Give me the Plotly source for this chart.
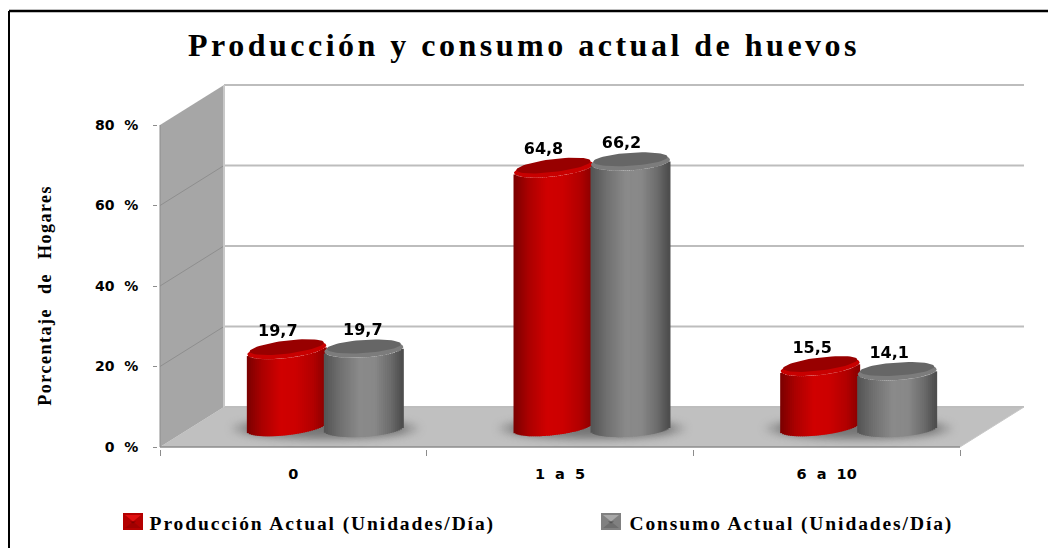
import math
import plotly.graph_objects as go

categories = ["0", "1  a  5", "6  a  10"]
produccion = [19.7, 64.8, 15.5]
consumo = [19.7, 66.2, 14.1]
value_labels_prod = ["19,7", "64,8", "15,5"]
value_labels_cons = ["19,7", "66,2", "14,1"]
y_ticks = [0, 20, 40, 60, 80]
y_tick_labels = ["0  %", "20  %", "40  %", "60  %", "80  %"]
legend_names = ["Producción Actual (Unidades/Día)", "Consumo Actual (Unidades/Día)"]

W, H = 1048, 548
LEFT, RIGHT, TOP, BOTTOM = 158, 1026, 83, 449
PX_X = 800 / 3
PX_Y = 322 / 80
X0 = -0.5 - 2 / PX_X
Y0 = -2 / PX_Y
X1 = X0 + (RIGHT - LEFT) / PX_X
Y1 = Y0 + (BOTTOM - TOP) / PX_Y
DEPTH_X = 64 / PX_X
DEPTH_Y = 40 / PX_Y
HALF = 39.5 / PX_X
OFFSET = 38.5 / PX_X
MINOR = 8.2 / PX_Y
STRIPS = 40
LID_DROP_RED = 2.2 / PX_Y


def px_x(p):
    return (p - LEFT) / (RIGHT - LEFT)


def px_y(p):
    return (BOTTOM - p) / (BOTTOM - TOP)


def lerp(stops, t):
    for (a, ca), (b, cb) in zip(stops, stops[1:]):
        if t <= b:
            f = (t - a) / (b - a)
            return "rgb(%d,%d,%d)" % tuple(round(p + (q - p) * f) for p, q in zip(ca, cb))
    return "rgb(%d,%d,%d)" % stops[-1][1]


RED = [(0, (125, 0, 0)), (0.18, (170, 0, 0)), (0.42, (208, 0, 0)), (0.62, (204, 0, 0)), (0.85, (178, 0, 0)), (1, (140, 0, 0))]
GRAY = [(0, (85, 85, 85)), (0.2, (112, 112, 112)), (0.45, (138, 138, 138)), (0.65, (136, 136, 136)), (0.85, (108, 108, 108)), (1, (78, 78, 78))]


def cylinder_traces(values, side, base, lid_drop, tilt, stops, rim, lid, name):
    xs, bases, lengths, colors = [], [], [], []
    ex, ey, ix, iy = [], [], [], []
    for i, v in enumerate(values):
        cx = i + DEPTH_X / 2 + side * OFFSET
        top = v + base - lid_drop
        for k in range(STRIPS):
            u = (k + 0.5) / STRIPS * 2 - 1
            arc = MINOR * math.sqrt(1 - u * u)
            b = base + tilt * u - arc
            t = top + tilt * u - arc
            xs.append(cx + u * HALF)
            bases.append(b)
            lengths.append(t - b)
            colors.append(lerp(stops, k / (STRIPS - 1)))
        for n in range(61):
            a = n / 60 * 2 * math.pi
            ex.append(cx + HALF * math.cos(a))
            ey.append(top + tilt * math.cos(a) + MINOR * math.sin(a))
            ix.append(cx + HALF * 0.94 * math.cos(a))
            iy.append(top + 0.7 + tilt * math.cos(a) + MINOR * 0.8 * math.sin(a))
        ex.append(None); ey.append(None); ix.append(None); iy.append(None)
    body = go.Bar(x=xs, y=lengths, base=bases, width=2 * HALF / STRIPS * 1.5, opacity=1,
                  marker=dict(color=colors, opacity=1, line=dict(width=0)), showlegend=False,
                  hoverinfo="skip", name=name)
    outer = go.Scatter(x=ex, y=ey, mode="lines", fill="toself", fillcolor=rim,
                       line=dict(width=0, color=rim), showlegend=False, hoverinfo="skip")
    inner = go.Scatter(x=ix, y=iy, mode="lines", fill="toself", fillcolor=lid,
                       line=dict(width=0, color=lid), showlegend=False, hoverinfo="skip")
    return [body, outer, inner]


def label_trace(values, labels, side, base, shifts):
    return go.Scatter(
        x=[i + DEPTH_X / 2 + side * OFFSET + s / PX_X for i, s in enumerate(shifts)],
        y=[v + base + 18 / PX_Y for v in values],
        text=labels, mode="text", textposition="middle center",
        textfont=dict(family="DejaVu Sans", size=16, color="#000000", weight="bold"),
        showlegend=False, hoverinfo="skip")


def line(x0, y0, x1, y1, color, width=1):
    return dict(type="line", xref="x", yref="y", x0=x0, y0=y0, x1=x1, y1=y1,
                line=dict(color=color, width=width), layer="below")


def poly(points, fill):
    path = "M " + " L ".join(f"{x} {y}" for x, y in points) + " Z"
    return dict(type="path", xref="x", yref="y", path=path, fillcolor=fill,
                line=dict(width=0), layer="below")


def paper_poly(points, fill):
    path = "M " + " L ".join(f"{px_x(x)} {px_y(y)}" for x, y in points) + " Z"
    return dict(type="path", xref="paper", yref="paper", path=path, fillcolor=fill, line=dict(width=0))


def legend_key(x, y, size, side, top, bottom, centre):
    m = size / 2
    r, b = x + size, y + size - 3
    cx, cy = x + m, y + (size - 3) / 2
    return [
        paper_poly([(x, y), (r, y), (r, b), (x, b)], side),
        paper_poly([(x + 2, y + 2), (r - 2, y + 2), (cx, cy)], top),
        paper_poly([(x + 2, b - 2), (r - 2, b - 2), (cx, cy)], bottom),
        paper_poly([(cx - 3, cy), (cx + 3, cy), (cx, cy + 2)], centre),
    ]


fl, fr = -0.5, 2.5
shapes = [
    poly([(fl, 0), (fl + DEPTH_X, DEPTH_Y), (fr + DEPTH_X, DEPTH_Y), (fr, 0)], "#c0c0c0"),
    poly([(fl, 0), (fl, 80), (fl + DEPTH_X, 80 + DEPTH_Y), (fl + DEPTH_X, DEPTH_Y)], "#a6a6a6"),
]
for v in y_ticks:
    shapes.append(line(fl + DEPTH_X, v + DEPTH_Y, fr + DEPTH_X, v + DEPTH_Y, "#bdbdbd", 2))
    if 0 < v < 80:
        shapes.append(line(fl, v, fl + DEPTH_X, v + DEPTH_Y, "#8e8e8e", 1))
shapes.append(line(fl + DEPTH_X, DEPTH_Y, fl + DEPTH_X, 80 + DEPTH_Y, "#c8c8c8", 2))
shapes.append(line(fl, 0, fr, 0, "#8c8c8c", 1.5))
shapes.append(line(fl, 0, fl, 80, "#8c8c8c", 1))
shapes.append(line(fr, 0, fr + DEPTH_X, DEPTH_Y, "#c8c8c8", 1))

# soft contact shadows on the floor
for i in range(len(categories)):
    cx = i + DEPTH_X / 2
    for grow, alpha in [(1.0, 0.3), (0.88, 0.45)]:
        shapes.append(dict(type="circle", xref="x", yref="y", layer="below",
                           x0=cx - 0.35 * grow, x1=cx + 0.35 * grow,
                           y0=DEPTH_Y / 2 - 2.6 * grow - 0.4, y1=DEPTH_Y / 2 + 2.6 * grow - 0.4,
                           fillcolor=f"rgba(70,70,70,{alpha})", line=dict(width=0)))

# chart frame: top and left rules only
shapes.append(dict(type="line", xref="paper", yref="paper", x0=px_x(9), y0=px_y(11), x1=px_x(W), y1=px_y(11),
                   line=dict(color="#000", width=2.5)))
shapes.append(dict(type="line", xref="paper", yref="paper", x0=px_x(9), y0=px_y(11), x1=px_x(9), y1=px_y(H),
                   line=dict(color="#000", width=2)))
shapes += legend_key(123, 513, 20, "#b40000", "#e01010", "#a00000", "#800000")
shapes += legend_key(601, 513, 20, "#808080", "#a8a8a8", "#6e6e6e", "#555555")

BASE_R, BASE_G = DEPTH_Y / 2, DEPTH_Y / 2 - 0.4
data = []
data += cylinder_traces(produccion, -1, BASE_R, LID_DROP_RED, 1.1, RED, "#c80000", "#980000", "Producción")
data += cylinder_traces(consumo, 1, BASE_G, 0, 0.6, GRAY, "#7c7c7c", "#666666", "Consumo")
data.append(label_trace(produccion, value_labels_prod, -1, BASE_R - LID_DROP_RED, [-9, -10, -8]))
data.append(label_trace(consumo, value_labels_cons, 1, BASE_G, [-1, -9, -8]))

SERIF = "Liberation Serif"
fig = go.Figure(data)
fig.update_layout(
    width=W, height=H, autosize=False, showlegend=False,
    margin=dict(l=LEFT, r=W - RIGHT, t=TOP, b=H - BOTTOM, pad=0),
    paper_bgcolor="#fff", plot_bgcolor="#fff", barmode="overlay", shapes=shapes,
    title=dict(text="Producción y consumo actual de huevos", x=524 / W, xanchor="center",
               y=1 - 45 / H, yanchor="middle", font=dict(family=SERIF, size=32, color="#000", weight="bold")),
    xaxis=dict(range=[X0, X1], tickmode="array", tickvals=[0, 1, 2], ticktext=categories, showgrid=False,
               zeroline=False, showline=False, ticks="", ticklabelstandoff=14,
               tickfont=dict(family="DejaVu Sans", size=14.5, color="#000", weight="bold"),
               minor=dict(tickmode="array", tickvals=[-0.5, 0.5, 1.5, 2.5], ticks="outside", ticklen=6,
                          tickcolor="#8c8c8c", tickwidth=1, showgrid=False)),
    yaxis=dict(range=[Y0, Y1], tickmode="array", tickvals=y_ticks, ticktext=y_tick_labels, showgrid=False,
               zeroline=False, showline=False, ticks="outside", ticklen=4, tickcolor="#8c8c8c",
               ticklabelstandoff=12,
               tickfont=dict(family="DejaVu Sans", size=14, color="#000", weight="bold")),
    annotations=[
        dict(text="Porcentaje de Hogares", xref="paper", yref="paper", x=px_x(45), y=px_y(296),
             textangle=-90, showarrow=False, xanchor="center", yanchor="middle",
             font=dict(family=SERIF, size=18, color="#000", weight="bold")),
        dict(text=legend_names[0], xref="paper", yref="paper", x=px_x(322), y=px_y(524),
             showarrow=False, xanchor="center", yanchor="middle",
             font=dict(family=SERIF, size=19.5, color="#000", weight="bold")),
        dict(text=legend_names[1], xref="paper", yref="paper", x=px_x(791), y=px_y(524),
             showarrow=False, xanchor="center", yanchor="middle",
             font=dict(family=SERIF, size=19.5, color="#000", weight="bold")),
    ],
)
post = """
document.body.style.margin='0';
document.querySelectorAll('.gtitle').forEach(e=>e.style.letterSpacing='3.5px');
document.querySelectorAll('.annotation-text').forEach(e=>{
  if(e.textContent.indexOf('Hogares')>=0){e.style.letterSpacing='1.5px';e.style.wordSpacing='8px';}
  else{e.style.letterSpacing='1.9px';}
});
document.querySelectorAll('.barlayer, .scatterlayer').forEach(e=>e.style.filter='blur(0.6px)');
document.querySelectorAll('.shapelayer path').forEach(e=>{
  var o=parseFloat(e.style.fillOpacity);
  if(o>0 && o<1){e.style.filter='blur(4px)';}
});
"""
fig.write_html("out.html", post_script=post, config=dict(displayModeBar=False))
